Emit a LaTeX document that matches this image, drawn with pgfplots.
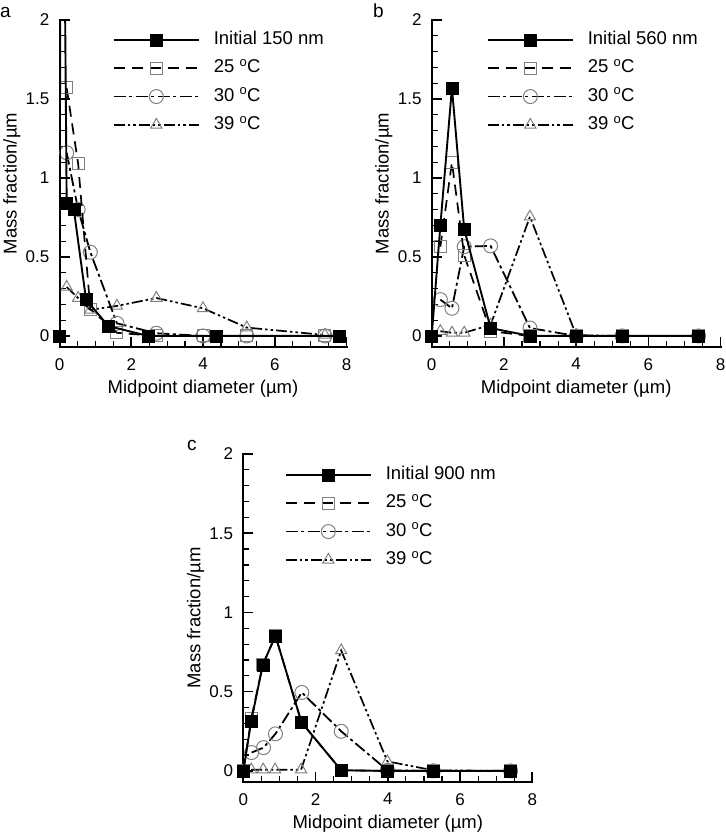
\documentclass[border=0pt]{standalone}
\usepackage{fontspec}
\setmainfont{Liberation Sans}
\usepackage{pgfplots}
\pgfplotsset{compat=1.18}

\pgfplotsset{
  panel/.style={
    scale only axis, width=287pt, height=327pt,
    xmin=0, xmax=8, ymin=-0.07, ymax=2,
    clip mode=individual,
    axis line style={draw=none},
    tick align=inside,
    xtick pos=bottom, ytick pos=left,
    xtick={0,2,4,6,8}, ytick={0,0.5,1,1.5,2},
    minor x tick num=3, minor y tick num=4,
    major tick length=10pt, minor tick length=6pt,
    major tick style={draw=black, line width=1.6pt},
    minor tick style={draw=black, line width=1.2pt},
    tick label style={font=\fontsize{17}{20}\selectfont},
    /pgf/number format/assume math mode=true,
    yticklabel style={inner sep=0pt, xshift=-10pt},
    xticklabel style={inner sep=0pt, yshift=-11pt},
    label style={font=\fontsize{18.5}{22}\selectfont},
    xlabel={Midpoint diameter (µm)},
    ylabel={Mass fraction/µm},
    xlabel style={at={(axis description cs:0.5,0)}, anchor=base, yshift=-46pt},
    ylabel style={at={([xshift=-43pt]axis description cs:0,0.5)}, anchor=base},
    legend cell align=left,
    reverse legend,
    legend image code/.code={\draw[mark repeat=2,mark phase=2,##1] plot coordinates {(0pt,0pt) (42.5pt,0pt) (85pt,0pt)};},
    legend style={draw=none, fill=none, inner sep=0pt, outer sep=0pt,
      row sep=9.3pt, column sep=14pt, anchor=north west,
      font=\fontsize{18.5}{22}\selectfont,
      nodes={inner sep=0pt, text height=14pt, text depth=5pt}},
  },
  init/.style={black, line width=1.9pt, solid, mark=square*, mark size=6pt,
    mark options={solid, fill=black, draw=black, line width=0.5pt}},
  t25/.style={black, line width=1.7pt, dash pattern=on 11pt off 7pt, mark=square, mark size=6pt,
    mark options={solid, draw=black!50, line width=1pt}},
  t30/.style={black, line width=1.8pt, dash pattern=on 12pt off 3.5pt on 3pt off 3.5pt, mark=o, mark size=7pt,
    mark options={solid, draw=black!50, line width=1pt}},
  t39/.style={black, line width=1.7pt, dash pattern=on 11pt off 3pt on 2.5pt off 3pt on 2.5pt off 3pt, mark=triangle, mark size=6.5pt,
    mark options={solid, draw=black!50, line width=1pt}},
}
\newcommand{\axlines}{\draw[line width=2pt, black, line cap=rect] (rel axis cs:0,1) -- (rel axis cs:0,0) -- (rel axis cs:1,0);}

\begin{document}
\begin{tikzpicture}
\useasboundingbox (0,0) rectangle (725pt,-832pt);

% ---------------- panel a
\begin{axis}[panel, at={(59.5pt,-347pt)}, anchor=south west,
  legend style={at={(axis description cs:0.186,0.968)}}]
\axlines
\addplot[t39] coordinates {(0.2,0.31) (0.52,0.24) (0.86,0.165) (1.6,0.19) (2.7,0.24) (4.0,0.175) (5.22,0.053) (7.4,0.006)};
\addlegendentry{39 \textsuperscript{o}C}
\addplot[t30] coordinates {(0.2,1.16) (0.52,0.80) (0.86,0.53) (1.6,0.08) (2.7,0.017) (4.0,0) (5.22,0) (7.4,0)};
\addlegendentry{30 \textsuperscript{o}C}
\addplot[t25] coordinates {(0.2,1.57) (0.52,1.09) (0.86,0.17) (1.6,0.02) (2.7,0) (4.0,0) (5.22,0) (7.4,0)};
\addlegendentry{25 \textsuperscript{o}C}
\addplot[init, forget plot, mark indices={1}] coordinates {(0,0) (0.05,5) (0.2,0.84)};
\addplot[init] coordinates {(0.2,0.84) (0.4,0.80) (0.74,0.23) (1.36,0.063) (2.47,0) (4.38,0) (7.8,0)};
\addlegendentry{Initial 150 nm}
\end{axis}

% ---------------- panel b
\begin{axis}[panel, width=289pt, at={(431.7pt,-347pt)}, anchor=south west,
  legend style={at={(axis description cs:0.191,0.968)}}]
\axlines
\addplot[t39] coordinates {(0.24,0.03) (0.56,0.02) (0.9,0.02) (1.63,0.07) (2.72,0.755) (4,0.005) (5.27,0) (7.39,0)};
\addlegendentry{39 \textsuperscript{o}C}
\addplot[t30] coordinates {(0.24,0.23) (0.56,0.175) (0.9,0.565) (1.63,0.57) (2.72,0.05) (4,0) (5.27,0) (7.39,0)};
\addlegendentry{30 \textsuperscript{o}C}
\addplot[t25] coordinates {(0.24,0.565) (0.56,1.10) (0.9,0.51) (1.63,0.03) (2.72,0) (4,0) (5.27,0) (7.39,0)};
\addlegendentry{25 \textsuperscript{o}C}
\addplot[init] coordinates {(0,0) (0.24,0.70) (0.56,1.57) (0.9,0.675) (1.63,0.05) (2.72,0) (4,0) (5.27,0) (7.39,0)};
\addlegendentry{Initial 560 nm}
\end{axis}

% ---------------- panel c
\begin{axis}[panel, width=289pt, height=328pt, at={(243.3pt,-782pt)}, anchor=south west,
  legend style={at={(axis description cs:0.144,0.965)}}]
\axlines
\addplot[t39] coordinates {(0.22,0.008) (0.55,0.008) (0.88,0.008) (1.6,0.008) (2.71,0.76) (3.99,0.06) (5.26,0.004) (7.4,0)};
\addlegendentry{39 \textsuperscript{o}C}
\addplot[t30] coordinates {(0.23,0.116) (0.56,0.147) (0.89,0.234) (1.62,0.495) (2.71,0.25) (3.99,0.004) (5.26,0) (7.4,0)};
\addlegendentry{30 \textsuperscript{o}C}
\addplot[t25] coordinates {(0,0) (0.22,0.33) (0.54,0.67) (0.89,0.853) (1.61,0.307) (2.71,0.004) (3.99,0) (5.26,0) (7.4,0)};
\addlegendentry{25 \textsuperscript{o}C}
\addplot[init] coordinates {(0,0) (0.22,0.316) (0.54,0.67) (0.89,0.853) (1.61,0.307) (2.71,0.004) (3.99,0) (5.26,0) (7.4,0)};
\addlegendentry{Initial 900 nm}
\end{axis}

\node[anchor=base west, inner sep=0pt, font=\fontsize{19}{22}\selectfont] at (0pt,-17.5pt) {a};
\node[anchor=base west, inner sep=0pt, font=\fontsize{19}{22}\selectfont] at (373pt,-18pt) {b};
\node[anchor=base west, inner sep=0pt, font=\fontsize{19}{22}\selectfont] at (187pt,-450.7pt) {c};
\end{tikzpicture}
\end{document}
